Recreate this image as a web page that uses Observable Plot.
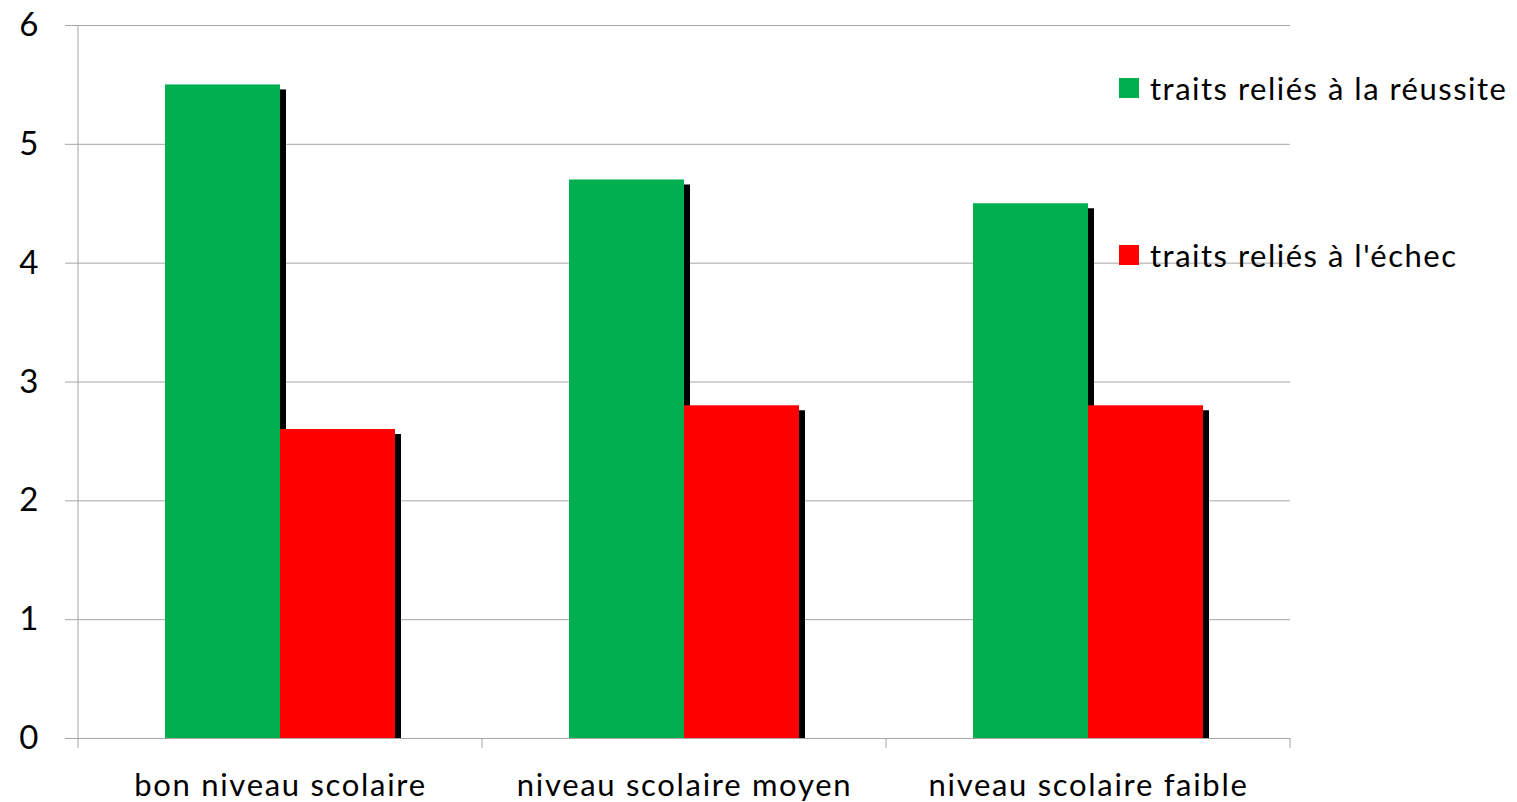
<!DOCTYPE html>
<html><head><meta charset="utf-8">
<script src="https://cdn.jsdelivr.net/npm/d3@7"></script>
<script src="https://cdn.jsdelivr.net/npm/@observablehq/plot@0.6"></script>
<style>
body{margin:0;background:#fff;font-family:Lato, sans-serif;}
#wrap{position:relative;width:1517px;height:802px;}
.legend{position:absolute;left:1119px;display:flex;align-items:center;font-size:31px;letter-spacing:1.5px;color:#000;white-space:nowrap;height:20px;}
.sw{width:20px;height:20px;margin-right:11px;flex:none;}
g[aria-label="fx-axis tick label"] text{letter-spacing:1.7px;}
</style></head><body><div id="wrap"></div>
<script>
const categories = ["bon niveau scolaire", "niveau scolaire moyen", "niveau scolaire faible"];
const seriesNames = ["traits reliés à la réussite", "traits reliés à l'échec"];
const reussite = [5.5, 4.7, 4.5];
const echec = [2.6, 2.8, 2.8];
const colors = ["#00B050", "#FF0000"];
const yTicks = [0, 1, 2, 3, 4, 5, 6];

const data = categories.flatMap((c, i) => [
  {cat: c, series: seriesNames[0], value: reussite[i]},
  {cat: c, series: seriesNames[1], value: echec[i]}
]);

const grid = "#a6a6a6";

const plot = Plot.plot({
  width: 1517, height: 802,
  marginLeft: 77, marginRight: 226, marginTop: 25, marginBottom: 64,
  style: {fontFamily: "Lato, sans-serif", background: "#fff", color: "#000"},
  fx: {domain: categories, padding: 0, label: null},
  x: {domain: seriesNames, paddingInner: 0, paddingOuter: 0.75, axis: null},
  y: {domain: [0, 6], label: null},
  color: {domain: seriesNames, range: colors},
  marks: [
    Plot.gridY(yTicks, {stroke: grid, strokeOpacity: 1}),
    Plot.axisY(yTicks, {tickSize: 13, tickPadding: 27, fontSize: 33, stroke: grid, fill: "#000", label: null, tickFormat: d => String(d)}),
    Plot.axisFx({anchor: "bottom", tickSize: 0, tickPadding: 35, fontSize: 31, fill: "#000", label: null}),
    Plot.barY(data, {fx: "cat", x: "series", y: "value", fill: "#000", dx: 6, insetTop: 5}),
    Plot.barY(data, {fx: "cat", x: "series", y: "value", fill: "series"})
  ]
});

document.getElementById("wrap").appendChild(plot);

// axis line and boundary tick marks, placed from the fx / y scales
const fxs = plot.scale("fx");
const ys = plot.scale("y");
const y0 = ys.apply(0);
const yTop = ys.apply(6);
const edges = categories.map(c => fxs.apply(c)).concat([fxs.apply(categories[categories.length - 1]) + fxs.bandwidth]);
const g = d3.select(plot).append("g");
g.selectAll("line.edge").data(edges).join("line")
  .attr("class", "edge")
  .attr("x1", d => d).attr("x2", d => d)
  .attr("y1", y0).attr("y2", y0 + 10)
  .attr("stroke", grid);
g.append("line")
  .attr("x1", edges[0]).attr("x2", edges[0])
  .attr("y1", yTop).attr("y2", y0)
  .attr("stroke", grid);

// legend
const wrap = document.getElementById("wrap");
const legendTops = [78, 245];
seriesNames.forEach((s, i) => {
  const div = document.createElement("div");
  div.className = "legend";
  div.style.top = legendTops[i] + "px";
  div.innerHTML = `<div class="sw" style="background:${colors[i]}"></div><span>${s}</span>`;
  wrap.appendChild(div);
});
</script></body></html>
